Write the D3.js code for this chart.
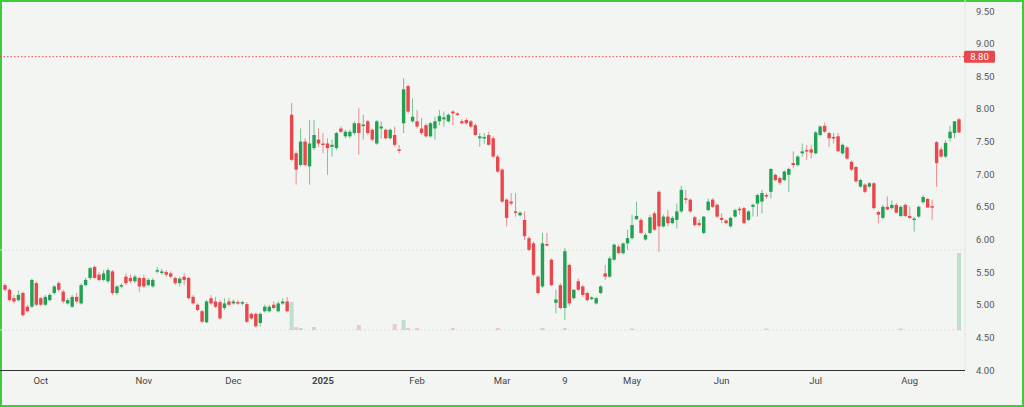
<!DOCTYPE html>
<html><head><meta charset="utf-8">
<script src="https://cdn.jsdelivr.net/npm/d3@7/dist/d3.min.js"></script>
<style>body{margin:0;background:#fff}svg{display:block}</style>
</head><body><svg id="c" width="1024" height="407"></svg>
<script>
// [open, high, low, close]
const candles = [
[5.30,5.33,5.20,5.23],[5.23,5.25,5.05,5.07],[5.10,5.15,5.02,5.05],[5.07,5.22,5.05,5.15],[5.18,5.20,4.82,4.84],
[4.97,5.00,4.88,4.90],[4.97,5.40,4.95,5.38],[5.33,5.36,4.98,5.00],[5.10,5.12,4.98,5.00],[5.00,5.15,4.98,5.12],
[5.07,5.18,5.05,5.15],[5.18,5.30,5.15,5.28],[5.33,5.36,5.20,5.23],[5.20,5.23,5.02,5.05],[5.02,5.10,5.00,5.07],
[4.97,5.15,4.95,5.12],[5.12,5.18,5.02,5.05],[5.02,5.33,5.00,5.30],[5.30,5.41,5.28,5.38],[5.41,5.58,5.38,5.56],
[5.58,5.60,5.40,5.41],[5.46,5.50,5.36,5.38],[5.38,5.53,5.36,5.48],[5.36,5.56,5.33,5.53],[5.51,5.53,5.15,5.18],
[5.18,5.30,5.15,5.28],[5.28,5.33,5.25,5.30],[5.43,5.48,5.30,5.33],[5.41,5.46,5.33,5.36],[5.36,5.46,5.33,5.43],
[5.41,5.43,5.20,5.28],[5.41,5.46,5.26,5.28],[5.30,5.41,5.28,5.38],[5.28,5.41,5.26,5.38],[5.51,5.58,5.48,5.53],
[5.50,5.55,5.46,5.51],[5.50,5.53,5.43,5.46],[5.48,5.51,5.41,5.43],[5.41,5.43,5.30,5.33],[5.33,5.43,5.28,5.40],
[5.43,5.48,5.30,5.38],[5.41,5.43,5.08,5.10],[5.12,5.15,5.00,5.02],[5.00,5.02,4.90,4.92],[4.90,4.92,4.72,4.74],
[4.73,5.07,4.72,5.05],[5.10,5.15,5.00,5.02],[5.05,5.12,4.95,4.97],[5.04,5.07,4.77,4.79],[4.95,5.10,4.92,5.02],
[5.05,5.10,4.98,5.00],[5.02,5.08,5.00,5.05],[5.04,5.07,5.00,5.02],[5.02,5.06,4.99,5.04],[5.01,5.04,4.72,4.74],
[4.86,4.88,4.77,4.79],[4.86,4.88,4.65,4.67],[4.72,4.88,4.67,4.86],[4.90,5.00,4.88,4.97],[4.90,5.00,4.88,4.97],
[5.00,5.05,4.93,4.95],[4.90,5.05,4.88,5.02],[5.02,5.10,5.00,5.05],[5.05,5.12,4.88,4.90],
[7.91,8.09,7.20,7.22],[7.32,7.35,6.84,7.07],[7.14,7.70,7.12,7.50],[7.50,7.55,7.12,7.14],[7.12,7.83,6.84,7.47],
[7.40,7.83,7.37,7.60],[7.53,7.70,7.42,7.47],[7.47,7.63,7.32,7.45],[7.47,7.55,6.99,7.40],[7.42,7.53,7.27,7.45],
[7.40,7.65,7.37,7.63],[7.70,7.73,7.63,7.65],[7.58,7.68,7.55,7.65],[7.58,7.68,7.55,7.65],[7.63,7.81,7.60,7.78],
[7.78,8.01,7.30,7.63],[7.74,7.91,7.53,7.76],[7.81,7.83,7.60,7.63],[7.68,7.70,7.50,7.53],[7.47,7.83,7.45,7.81],
[7.70,7.81,7.55,7.73],[7.68,7.70,7.53,7.55],[7.55,7.70,7.53,7.68],[7.60,7.73,7.42,7.45],[7.38,7.45,7.32,7.36],
[7.78,8.47,7.63,8.30],[8.35,8.37,7.93,7.96],[7.81,8.16,7.79,7.88],[7.81,7.98,7.70,7.73],[7.70,7.86,7.60,7.63],
[7.75,7.78,7.56,7.58],[7.58,7.80,7.56,7.78],[7.70,7.88,7.53,7.81],[7.81,7.98,7.75,7.89],[7.84,7.96,7.73,7.87],
[7.81,7.93,7.79,7.91],[7.96,7.98,7.75,7.93],[7.93,7.95,7.89,7.91],[7.81,7.84,7.76,7.78],[7.83,7.86,7.76,7.78],
[7.81,7.83,7.70,7.73],[7.75,7.78,7.58,7.60],[7.55,7.63,7.42,7.58],[7.55,7.63,7.47,7.57],[7.60,7.65,7.44,7.45],
[7.55,7.58,7.25,7.27],[7.27,7.30,7.02,7.04],[7.07,7.09,6.56,6.58],[6.61,6.63,6.20,6.33],[6.58,6.71,6.52,6.55],
[6.43,6.71,6.35,6.41],[6.37,6.43,6.35,6.41],[6.30,6.43,5.99,6.05],[6.02,6.05,5.82,5.84],[5.94,5.97,5.44,5.46],
[5.43,5.45,5.16,5.18],[5.28,6.10,5.26,5.94],[5.93,6.10,5.89,5.92],[5.69,5.71,5.28,5.30],[5.03,5.23,4.87,5.08],
[5.30,5.33,4.93,4.95],[4.95,5.87,4.77,5.82],[5.61,5.63,4.98,5.02],[5.10,5.23,5.08,5.23],[5.36,5.40,5.21,5.23],
[5.28,5.30,5.12,5.15],[5.18,5.20,5.05,5.07],[5.09,5.13,5.07,5.11],[5.02,5.12,5.00,5.10],[5.18,5.30,5.16,5.28],
[5.48,5.61,5.38,5.43],[5.43,5.74,5.41,5.71],[5.69,5.94,5.67,5.92],[5.89,5.92,5.78,5.79],
[5.79,5.95,5.77,5.94],[5.94,6.15,5.84,6.02],[6.02,6.38,6.00,6.22],[6.31,6.58,6.30,6.36],[6.30,6.33,6.08,6.10],
[6.00,6.10,5.98,6.07],[6.10,6.38,6.08,6.34],[6.40,6.43,6.13,6.15],[6.73,6.75,5.81,6.20],[6.20,6.38,6.18,6.35],
[6.35,6.45,6.20,6.25],[6.25,6.36,6.23,6.33],[6.30,6.55,6.17,6.43],[6.43,6.82,6.41,6.76],[6.63,6.76,6.55,6.61],
[6.61,6.63,6.41,6.43],[6.34,6.36,6.20,6.22],[6.25,6.30,6.20,6.22],[6.10,6.36,6.08,6.35],[6.45,6.63,6.43,6.58],
[6.61,6.63,6.48,6.50],[6.53,6.55,6.33,6.35],[6.33,6.40,6.25,6.30],[6.29,6.31,6.23,6.25],[6.20,6.35,6.18,6.33],
[6.35,6.47,6.33,6.45],[6.47,6.50,6.38,6.45],[6.48,6.50,6.23,6.25],[6.30,6.45,6.28,6.43],[6.50,6.55,6.35,6.53],
[6.55,6.70,6.35,6.68],[6.58,6.76,6.40,6.71],[6.68,6.71,6.63,6.66],[6.73,7.09,6.63,7.08],[6.99,7.01,6.89,6.91],
[6.94,6.96,6.84,6.87],[6.91,7.06,6.89,7.04],[6.99,7.10,6.73,7.08],[7.17,7.35,7.09,7.14],[7.14,7.29,7.12,7.27],
[7.32,7.47,7.27,7.35],[7.37,7.45,7.22,7.35],[7.38,7.45,7.24,7.33],[7.32,7.66,7.30,7.64],[7.60,7.75,7.58,7.73],
[7.74,7.79,7.63,7.65],[7.63,7.65,7.42,7.55],[7.57,7.63,7.47,7.55],[7.58,7.63,7.35,7.35],[7.32,7.47,7.30,7.45],
[7.41,7.43,7.22,7.24],[7.19,7.21,7.05,7.07],[7.11,7.13,6.87,6.89],[6.81,6.93,6.79,6.91],[6.84,6.86,6.71,6.73],
[6.81,6.88,6.79,6.86],[6.86,6.88,6.46,6.48],[6.42,6.44,6.25,6.38],[6.33,6.53,6.31,6.50],[6.50,6.66,6.45,6.46],
[6.48,6.60,6.46,6.53],[6.53,6.56,6.40,6.41],[6.36,6.52,6.34,6.50],[6.53,6.55,6.34,6.36],[6.36,6.50,6.31,6.33],
[6.30,6.34,6.12,6.32],[6.35,6.52,6.33,6.50],[6.57,6.68,6.55,6.65],[6.62,6.64,6.48,6.49],[6.51,6.61,6.30,6.50],
[7.49,7.51,6.81,7.17],[7.38,7.42,7.25,7.27],[7.27,7.52,7.25,7.48],[7.55,7.74,7.50,7.65],[7.63,7.81,7.55,7.81],
[7.84,7.86,7.63,7.64]
];
// notable volume (relative units), by candle index, with up(1)/down(0) tint
const volIndex = [64, 65, 66, 69, 79, 87, 89, 90, 92, 100, 110, 120, 125, 140, 170, 200, 213];
const volValue = [28, 3, 2, 3, 5, 6, 10, 2, 2, 2, 2, 2, 2, 1.5, 1.5, 1.5, 77];
const volUp    = [1, 0, 1, 1, 0, 0, 1, 0, 0, 0, 0, 1, 1, 1, 1, 1, 1];
const priceTicks = [9.5, 9.0, 8.5, 8.0, 7.5, 7.0, 6.5, 6.0, 5.5, 5.0, 4.5, 4.0];
const monthLabels = ["Oct","Nov","Dec","2025","Feb","Mar","9","May","Jun","Jul","Aug"];
const monthIndex = [8, 31, 51, 71, 92, 111, 125, 140, 160, 181, 202];
const lastLevel = 8.80;

const svg = d3.select("#c");
const W = 1024, H = 407, plotR = 965;
const UP = "#22a053", DN = "#e8474c";
svg.append("rect").attr("width", W).attr("height", H).attr("fill", "#f2f5f1");
svg.append("rect").attr("x",1).attr("y",1).attr("width",W-2).attr("height",H-2)
  .attr("fill","none").attr("stroke","#3ccc3c").attr("stroke-width",2);

const x = d3.scaleLinear().domain([0, 213]).range([5, 959]);
const y = d3.scaleLinear().domain([4.0, 9.5]).range([370, 11]);
const v = d3.scaleLinear().domain([0, 77]).range([330, 253]);

svg.append("line").attr("x1",0).attr("x2",plotR).attr("y1",250).attr("y2",250)
  .attr("stroke","#dde2dc").attr("stroke-dasharray","2,2");
svg.append("line").attr("x1",0).attr("x2",plotR).attr("y1",330).attr("y2",330)
  .attr("stroke","#e6dede").attr("stroke-dasharray","2,2");
svg.append("g").selectAll("rect").data(volIndex).join("rect")
  .attr("x", d => x(d) - 2).attr("width", 4)
  .attr("y", (d,i) => v(volValue[i])).attr("height", (d,i) => 330 - v(volValue[i]))
  .attr("fill", (d,i) => volUp[i] ? "rgba(34,160,83,0.25)" : "rgba(232,71,76,0.25)");

svg.append("line").attr("x1",0).attr("x2",plotR).attr("y1",y(lastLevel)).attr("y2",y(lastLevel))
  .attr("stroke", DN).attr("stroke-dasharray","1.5,2").attr("stroke-width",1);

const g = svg.append("g");
g.selectAll("line").data(candles).join("line")
  .attr("x1",(d,i)=>x(i)).attr("x2",(d,i)=>x(i))
  .attr("y1",d=>y(d[1])).attr("y2",d=>y(d[2]))
  .attr("stroke",d=>d[3]>=d[0]?UP:DN).attr("stroke-opacity",0.6);
g.selectAll("rect").data(candles).join("rect")
  .attr("x",(d,i)=>x(i)-1.7).attr("width",3.4)
  .attr("y",d=>y(Math.max(d[0],d[3])))
  .attr("height",d=>Math.max(1.5, Math.abs(y(d[0])-y(d[3]))))
  .attr("fill",d=>d[3]>=d[0]?UP:DN);

svg.append("line").attr("x1",plotR).attr("x2",plotR).attr("y1",0).attr("y2",370).attr("stroke","#e2e6e1");
svg.append("g").selectAll("text").data(priceTicks).join("text")
  .attr("x", 976).attr("y", d => y(d) + 3.5).attr("font-family","Roboto, sans-serif")
  .attr("font-size", 9.5).attr("fill","#555").text(d => d.toFixed(2));
svg.append("rect").attr("x",964).attr("y",y(lastLevel)-6).attr("width",31).attr("height",12)
  .attr("rx",1.5).attr("fill",DN);
svg.append("text").attr("x",979.5).attr("y",y(lastLevel)+3.5).attr("text-anchor","middle")
  .attr("font-family","Roboto, sans-serif").attr("font-size",9.5).attr("fill","#fff").text(lastLevel.toFixed(2));

svg.append("line").attr("x1",0).attr("x2",plotR).attr("y1",370.5).attr("y2",370.5).attr("stroke","#333");
svg.append("g").selectAll("text").data(monthLabels).join("text")
  .attr("x",(d,i)=>x(monthIndex[i])).attr("y",384).attr("text-anchor","middle")
  .attr("font-family","Roboto, sans-serif").attr("font-size",9.5)
  .attr("font-weight",d=>d==="2025"?"bold":"normal").attr("fill","#444").text(d=>d);
</script></body></html>
